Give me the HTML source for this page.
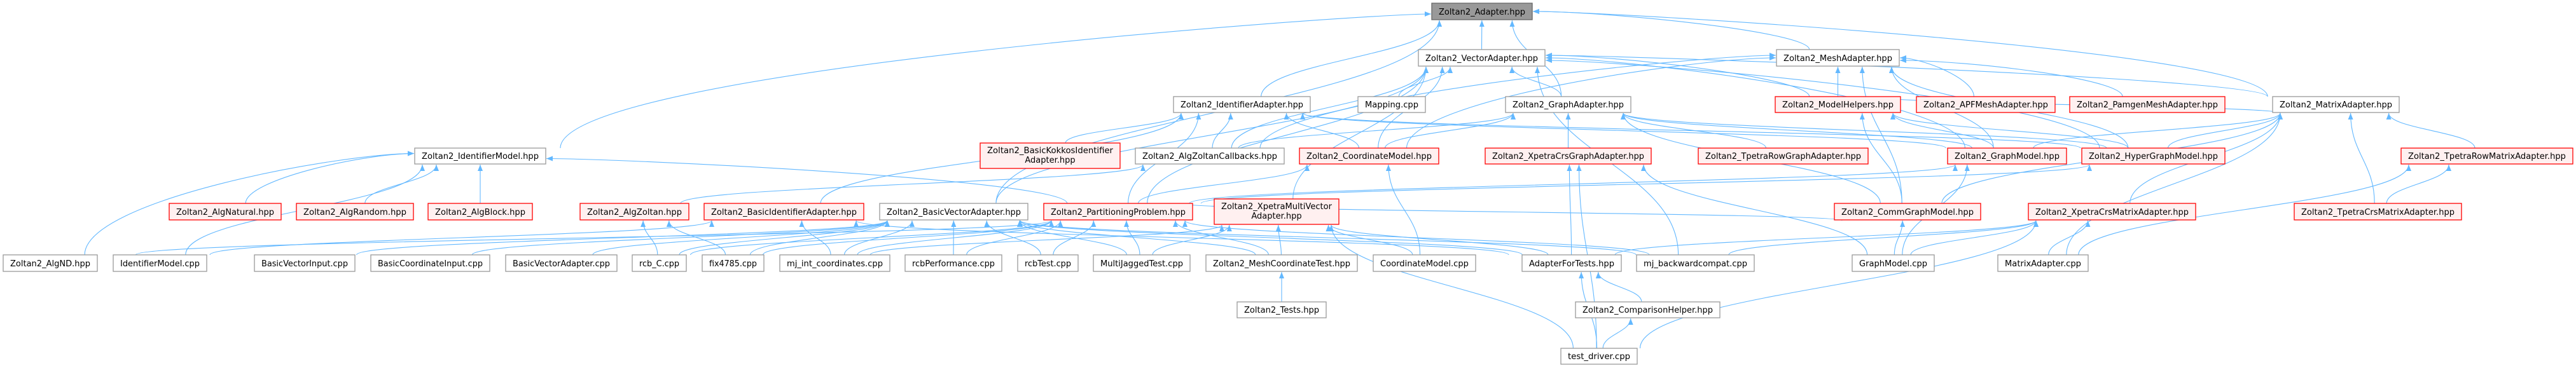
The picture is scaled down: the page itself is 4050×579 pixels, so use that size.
<!DOCTYPE html>
<html><head><meta charset="utf-8">
<style>
html,body{margin:0;padding:0;background:#fff;}
svg{display:block;}
text{font-family:"DejaVu Sans","Liberation Sans",sans-serif;font-size:13px;fill:#000;}
.g{fill:#fff;stroke:#999;stroke-width:1.3;}
.r{fill:#fff0f0;stroke:#ff0000;stroke-width:1.3;}
.d{fill:#999;stroke:#666;stroke-width:1.3;}
.e{fill:none;stroke:#63b8ff;stroke-width:1.1;}
</style></head>
<body>
<svg id="s" width="4050" height="579" viewBox="0 0 4050 579" xmlns="http://www.w3.org/2000/svg">
<defs><marker id="a" viewBox="0 0 10 8" refX="10" refY="4" markerWidth="11" markerHeight="8" markerUnits="userSpaceOnUse" orient="auto"><path d="M0,0 L10,4 L0,8 z" fill="#63b8ff"/></marker></defs>
<g id="edges"></g>
<g id="nodes">
<rect class="d" x="2251" y="5" width="158" height="26"/><text x="2330" y="23" text-anchor="middle" textLength="136" lengthAdjust="spacingAndGlyphs">Zoltan2_Adapter.hpp</text>
<rect class="g" x="2230" y="78" width="199" height="26"/><text x="2329.5" y="96" text-anchor="middle" textLength="177" lengthAdjust="spacingAndGlyphs">Zoltan2_VectorAdapter.hpp</text>
<rect class="g" x="2793" y="78" width="193" height="26"/><text x="2889.5" y="96" text-anchor="middle" textLength="171" lengthAdjust="spacingAndGlyphs">Zoltan2_MeshAdapter.hpp</text>
<rect class="g" x="1845" y="152" width="215" height="25"/><text x="1952.5" y="169" text-anchor="middle" textLength="193" lengthAdjust="spacingAndGlyphs">Zoltan2_IdentifierAdapter.hpp</text>
<rect class="g" x="2135" y="152" width="106" height="25"/><text x="2188" y="169" text-anchor="middle" textLength="84" lengthAdjust="spacingAndGlyphs">Mapping.cpp</text>
<rect class="g" x="2367" y="152" width="197" height="25"/><text x="2465.5" y="169" text-anchor="middle" textLength="175" lengthAdjust="spacingAndGlyphs">Zoltan2_GraphAdapter.hpp</text>
<rect class="r" x="2791" y="152" width="197" height="25"/><text x="2889.5" y="169" text-anchor="middle" textLength="175" lengthAdjust="spacingAndGlyphs">Zoltan2_ModelHelpers.hpp</text>
<rect class="r" x="3013" y="152" width="218" height="25"/><text x="3122" y="169" text-anchor="middle" textLength="196" lengthAdjust="spacingAndGlyphs">Zoltan2_APFMeshAdapter.hpp</text>
<rect class="r" x="3254" y="152" width="244" height="25"/><text x="3376" y="169" text-anchor="middle" textLength="222" lengthAdjust="spacingAndGlyphs">Zoltan2_PamgenMeshAdapter.hpp</text>
<rect class="g" x="3573" y="152" width="199" height="25"/><text x="3672.5" y="169" text-anchor="middle" textLength="177" lengthAdjust="spacingAndGlyphs">Zoltan2_MatrixAdapter.hpp</text>
<rect class="g" x="652" y="233" width="206" height="25"/><text x="755" y="250" text-anchor="middle" textLength="184" lengthAdjust="spacingAndGlyphs">Zoltan2_IdentifierModel.hpp</text>
<rect class="r" x="1541" y="225" width="220" height="40"/><text x="1651" y="241" text-anchor="middle" textLength="198" lengthAdjust="spacingAndGlyphs">Zoltan2_BasicKokkosIdentifier</text><text x="1651" y="256" text-anchor="middle">Adapter.hpp</text>
<rect class="g" x="1785" y="233" width="234" height="25"/><text x="1902" y="250" text-anchor="middle" textLength="212" lengthAdjust="spacingAndGlyphs">Zoltan2_AlgZoltanCallbacks.hpp</text>
<rect class="r" x="2043" y="233" width="219" height="25"/><text x="2152.5" y="250" text-anchor="middle" textLength="197" lengthAdjust="spacingAndGlyphs">Zoltan2_CoordinateModel.hpp</text>
<rect class="r" x="2335" y="233" width="261" height="25"/><text x="2465.5" y="250" text-anchor="middle" textLength="239" lengthAdjust="spacingAndGlyphs">Zoltan2_XpetraCrsGraphAdapter.hpp</text>
<rect class="r" x="2670" y="233" width="267" height="25"/><text x="2803.5" y="250" text-anchor="middle" textLength="245" lengthAdjust="spacingAndGlyphs">Zoltan2_TpetraRowGraphAdapter.hpp</text>
<rect class="r" x="3062" y="233" width="187" height="25"/><text x="3155.5" y="250" text-anchor="middle" textLength="165" lengthAdjust="spacingAndGlyphs">Zoltan2_GraphModel.hpp</text>
<rect class="r" x="3273" y="233" width="225" height="25"/><text x="3385.5" y="250" text-anchor="middle" textLength="203" lengthAdjust="spacingAndGlyphs">Zoltan2_HyperGraphModel.hpp</text>
<rect class="r" x="3775" y="233" width="270" height="25"/><text x="3910" y="250" text-anchor="middle" textLength="248" lengthAdjust="spacingAndGlyphs">Zoltan2_TpetraRowMatrixAdapter.hpp</text>
<rect class="r" x="266" y="320" width="176" height="26"/><text x="354" y="338" text-anchor="middle" textLength="154" lengthAdjust="spacingAndGlyphs">Zoltan2_AlgNatural.hpp</text>
<rect class="r" x="466" y="320" width="184" height="26"/><text x="558" y="338" text-anchor="middle" textLength="162" lengthAdjust="spacingAndGlyphs">Zoltan2_AlgRandom.hpp</text>
<rect class="r" x="673" y="320" width="164" height="26"/><text x="755" y="338" text-anchor="middle" textLength="142" lengthAdjust="spacingAndGlyphs">Zoltan2_AlgBlock.hpp</text>
<rect class="r" x="912" y="320" width="171" height="26"/><text x="997.5" y="338" text-anchor="middle" textLength="149" lengthAdjust="spacingAndGlyphs">Zoltan2_AlgZoltan.hpp</text>
<rect class="r" x="1107" y="320" width="251" height="26"/><text x="1232.5" y="338" text-anchor="middle" textLength="229" lengthAdjust="spacingAndGlyphs">Zoltan2_BasicIdentifierAdapter.hpp</text>
<rect class="g" x="1383" y="320" width="233" height="26"/><text x="1499.5" y="338" text-anchor="middle" textLength="211" lengthAdjust="spacingAndGlyphs">Zoltan2_BasicVectorAdapter.hpp</text>
<rect class="r" x="1641" y="320" width="234" height="26"/><text x="1758" y="338" text-anchor="middle" textLength="212" lengthAdjust="spacingAndGlyphs">Zoltan2_PartitioningProblem.hpp</text>
<rect class="r" x="1909" y="313" width="196" height="40"/><text x="2007" y="329" text-anchor="middle" textLength="174" lengthAdjust="spacingAndGlyphs">Zoltan2_XpetraMultiVector</text><text x="2007" y="344" text-anchor="middle">Adapter.hpp</text>
<rect class="r" x="2884" y="320" width="230" height="26"/><text x="2999" y="338" text-anchor="middle" textLength="208" lengthAdjust="spacingAndGlyphs">Zoltan2_CommGraphModel.hpp</text>
<rect class="r" x="3189" y="320" width="263" height="26"/><text x="3320.5" y="338" text-anchor="middle" textLength="241" lengthAdjust="spacingAndGlyphs">Zoltan2_XpetraCrsMatrixAdapter.hpp</text>
<rect class="r" x="3607" y="320" width="263" height="26"/><text x="3738.5" y="338" text-anchor="middle" textLength="241" lengthAdjust="spacingAndGlyphs">Zoltan2_TpetraCrsMatrixAdapter.hpp</text>
<rect class="g" x="5" y="401" width="148" height="26"/><text x="79" y="419" text-anchor="middle" textLength="126" lengthAdjust="spacingAndGlyphs">Zoltan2_AlgND.hpp</text>
<rect class="g" x="178" y="401" width="147" height="26"/><text x="251.5" y="419" text-anchor="middle" textLength="125" lengthAdjust="spacingAndGlyphs">IdentifierModel.cpp</text>
<rect class="g" x="400" y="401" width="158" height="26"/><text x="479" y="419" text-anchor="middle" textLength="136" lengthAdjust="spacingAndGlyphs">BasicVectorInput.cpp</text>
<rect class="g" x="583" y="401" width="187" height="26"/><text x="676.5" y="419" text-anchor="middle" textLength="165" lengthAdjust="spacingAndGlyphs">BasicCoordinateInput.cpp</text>
<rect class="g" x="795" y="401" width="175" height="26"/><text x="882.5" y="419" text-anchor="middle" textLength="153" lengthAdjust="spacingAndGlyphs">BasicVectorAdapter.cpp</text>
<rect class="g" x="994" y="401" width="85" height="26"/><text x="1036.5" y="419" text-anchor="middle" textLength="63" lengthAdjust="spacingAndGlyphs">rcb_C.cpp</text>
<rect class="g" x="1104" y="401" width="97" height="26"/><text x="1152.5" y="419" text-anchor="middle" textLength="75" lengthAdjust="spacingAndGlyphs">fix4785.cpp</text>
<rect class="g" x="1226" y="401" width="173" height="26"/><text x="1312.5" y="419" text-anchor="middle" textLength="151" lengthAdjust="spacingAndGlyphs">mj_int_coordinates.cpp</text>
<rect class="g" x="1423" y="401" width="152" height="26"/><text x="1499" y="419" text-anchor="middle" textLength="130" lengthAdjust="spacingAndGlyphs">rcbPerformance.cpp</text>
<rect class="g" x="1600" y="401" width="95" height="26"/><text x="1647.5" y="419" text-anchor="middle" textLength="73" lengthAdjust="spacingAndGlyphs">rcbTest.cpp</text>
<rect class="g" x="1719" y="401" width="152" height="26"/><text x="1795" y="419" text-anchor="middle" textLength="130" lengthAdjust="spacingAndGlyphs">MultiJaggedTest.cpp</text>
<rect class="g" x="1896" y="401" width="238" height="26"/><text x="2015" y="419" text-anchor="middle" textLength="216" lengthAdjust="spacingAndGlyphs">Zoltan2_MeshCoordinateTest.hpp</text>
<rect class="g" x="2159" y="401" width="161" height="26"/><text x="2239.5" y="419" text-anchor="middle" textLength="139" lengthAdjust="spacingAndGlyphs">CoordinateModel.cpp</text>
<rect class="g" x="2393" y="401" width="156" height="26"/><text x="2471" y="419" text-anchor="middle" textLength="134" lengthAdjust="spacingAndGlyphs">AdapterForTests.hpp</text>
<rect class="g" x="2573" y="401" width="185" height="26"/><text x="2665.5" y="419" text-anchor="middle" textLength="163" lengthAdjust="spacingAndGlyphs">mj_backwardcompat.cpp</text>
<rect class="g" x="2912" y="401" width="129" height="26"/><text x="2976.5" y="419" text-anchor="middle" textLength="107" lengthAdjust="spacingAndGlyphs">GraphModel.cpp</text>
<rect class="g" x="3141" y="401" width="142" height="26"/><text x="3212" y="419" text-anchor="middle" textLength="120" lengthAdjust="spacingAndGlyphs">MatrixAdapter.cpp</text>
<rect class="g" x="1945" y="475" width="140" height="25"/><text x="2015" y="492" text-anchor="middle" textLength="118" lengthAdjust="spacingAndGlyphs">Zoltan2_Tests.hpp</text>
<rect class="g" x="2477" y="475" width="227" height="25"/><text x="2590.5" y="492" text-anchor="middle" textLength="205" lengthAdjust="spacingAndGlyphs">Zoltan2_ComparisonHelper.hpp</text>
<rect class="g" x="2454" y="548" width="120" height="25"/><text x="2514" y="565" text-anchor="middle" textLength="98" lengthAdjust="spacingAndGlyphs">test_driver.cpp</text>
</g>
</svg>
<script>
var N={Adapter:[2251,5,158,26],Vector:[2230,78,199,26],Mesh:[2793,78,193,26],IdAd:[1845,152,215,25],Mapping:[2135,152,106,25],GraphAd:[2367,152,197,25],ModelH:[2791,152,197,25],APF:[3013,152,218,25],Pamgen:[3254,152,244,25],MatrixAd:[3573,152,199,25],IdModel:[652,233,206,25],Kokkos:[1541,225,220,40],Callbacks:[1785,233,234,25],CoordModel:[2043,233,219,25],XCrsGraph:[2335,233,261,25],TRowGraph:[2670,233,267,25],GraphModel:[3062,233,187,25],HyperGraph:[3273,233,225,25],TRowMatrix:[3775,233,270,25],AlgNatural:[266,320,176,26],AlgRandom:[466,320,184,26],AlgBlock:[673,320,164,26],AlgZoltan:[912,320,171,26],BasicIdAd:[1107,320,251,26],BasicVecAd:[1383,320,233,26],PartProb:[1641,320,234,26],XMV:[1909,313,196,40],CommGraph:[2884,320,230,26],XCrsMatrix:[3189,320,263,26],TCrsMatrix:[3607,320,263,26],AlgND:[5,401,148,26],IdModelCpp:[178,401,147,26],BVI:[400,401,158,26],BCI:[583,401,187,26],BVA:[795,401,175,26],rcbC:[994,401,85,26],fix:[1104,401,97,26],mjint:[1226,401,173,26],rcbPerf:[1423,401,152,26],rcbTest:[1600,401,95,26],MJT:[1719,401,152,26],MeshCT:[1896,401,238,26],CoordCpp:[2159,401,161,26],AFT:[2393,401,156,26],mjback:[2573,401,185,26],GraphCpp:[2912,401,129,26],MatrixCpp:[3141,401,142,26],Tests:[1945,475,140,25],Comp:[2477,475,227,25],td:[2454,548,120,25]};
var E={
Adapter:["Vector","Mesh","IdAd","GraphAd","MatrixAd","IdModel","BasicVecAd"],
Vector:["BasicVecAd","XMV","CoordModel","Mapping","GraphAd","mjback","MatrixAd","GraphModel","HyperGraph","ModelH","Callbacks","PartProb"],
Mesh:["ModelH","APF","Pamgen","CommGraph","GraphModel","HyperGraph","Callbacks","CoordModel"],
IdAd:["Kokkos","Callbacks","BasicIdAd","CoordModel","PartProb","GraphModel","HyperGraph"],
GraphAd:["XCrsGraph","TRowGraph","GraphModel","CommGraph","HyperGraph","Callbacks","CoordModel"],
MatrixAd:["TRowMatrix","TCrsMatrix","XCrsMatrix","GraphModel","HyperGraph","CommGraph","ModelH","MatrixCpp"],
ModelH:["GraphModel","CommGraph","HyperGraph"],
IdModel:["AlgNatural","AlgRandom","AlgBlock","AlgND","IdModelCpp","PartProb"],
Callbacks:["AlgZoltan"],
AlgZoltan:["rcbC","fix"],
BasicIdAd:["IdModelCpp","mjint","AFT"],
BasicVecAd:["BVI","BCI","BVA","rcbC","fix","mjint","rcbPerf","rcbTest","MJT","MeshCT","AFT","mjback"],
PartProb:["rcbC","fix","mjint","rcbPerf","rcbTest","MJT","MeshCT","mjback","AlgND"],
XMV:["MeshCT","MJT","AFT","mjint","td","CoordCpp"],
CoordModel:["CoordCpp","PartProb"],
XCrsGraph:["AFT","td","GraphCpp"],
GraphModel:["GraphCpp","PartProb"],
CommGraph:["PartProb","GraphCpp"],
HyperGraph:["PartProb"],
XCrsMatrix:["MatrixCpp","GraphCpp","AFT","td","mjback"],
TRowMatrix:["TCrsMatrix","MatrixCpp"],
AFT:["td","Comp"],Comp:["td"],MeshCT:["Tests"]};
var SIDE={Adapter:1,Vector:1,Mesh:1,IdModel:1};
var g=document.getElementById("edges"),out="";
for(var p in E){E[p].forEach(function(c,i){var P=N[p],C=N[c];
var ccx=C[0]+C[2]/2,pcx=P[0]+P[2]/2;
var sx=ccx+(pcx-ccx)*0.08*Math.min(1,C[2]/100),sy=C[1];
var dyAll=C[1]-(P[1]+P[3]);
var d;
if(SIDE[p] && dyAll>40 && Math.abs(ccx-pcx)>4*dyAll && (ccx<P[0]-20||ccx>P[0]+P[2]+20)){
 var left=ccx<P[0];var ex=left?P[0]-1:P[0]+P[2]+1;var ey=P[1]+P[3]/2+(i%3-1)*4;
 var off=Math.min(120,Math.abs(ex-sx)*0.3);
 d='M'+sx.toFixed(1)+','+sy+' C'+sx.toFixed(1)+','+(sy-dyAll*0.6).toFixed(1)+' '+(left?ex-off:ex+off).toFixed(1)+','+ey+' '+ex+','+ey;
}else{
 var ex=pcx+(ccx-pcx)*0.35;ex=Math.max(P[0]+12,Math.min(P[0]+P[2]-12,ex));
 var ey=P[1]+P[3]+1;var dy=sy-ey;
 d='M'+sx.toFixed(1)+','+sy+' C'+sx.toFixed(1)+','+(sy-dy*0.45).toFixed(1)+' '+ex.toFixed(1)+','+(ey+dy*0.45).toFixed(1)+' '+ex.toFixed(1)+','+ey;
}
out+='<path class="e" marker-end="url(#a)" d="'+d+'"/>';});}
g.innerHTML=out;
</script>
</body></html>
